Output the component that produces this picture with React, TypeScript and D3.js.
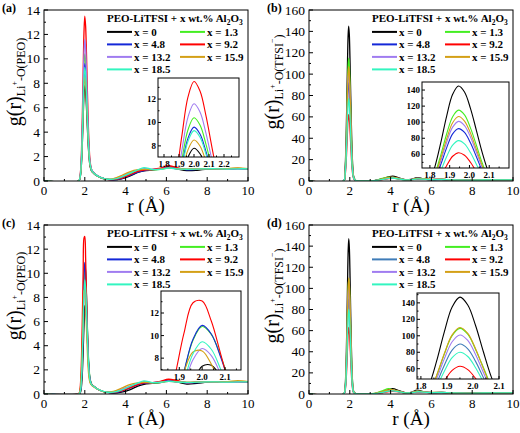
import React from 'react';
import * as d3 from 'd3';

// ---------- data ----------
const SERIES_LABELS = ['x = 0', 'x = 1.3', 'x = 4.8', 'x = 9.2', 'x = 13.2', 'x = 15.9', 'x = 18.5'];
const COLORS = ['#000000', '#44ee22', '#1428d8', '#ff0000', '#a07cf0', '#d4a017', '#33f5c0'];
const COLORS_D = ['#000000', '#44ee22', '#3f7cb8', '#ff0000', '#a07cf0', '#d4a017', '#33f5c0'];

const X_TICKS = [0, 2, 4, 6, 8, 10];
const Y_TICKS_PEO = [0, 2, 4, 6, 8, 10, 12, 14];
const Y_TICKS_TFSI = [0, 20, 40, 60, 80, 100, 120, 140, 160];

// r grid for Li-O(PEO) panels (a, c)
const R_PEO = [0, 1.7, 1.76, 1.8, 1.84, 1.88, 1.92, 1.96, 2.0, 2.04, 2.08, 2.12, 2.16, 2.2, 2.26, 2.34, 2.45, 2.6, 2.8, 3.0,
  3.4, 3.8, 4.2, 4.6, 4.9, 5.3, 5.7, 6.1, 6.5, 7.0, 7.5, 8.0, 8.5, 9.0, 9.5, 10.0];

const A_X0 = [0, 0, 0.19, 0.59, 1.49, 3.08, 5.16, 7.04, 7.8, 7.33, 6.10, 4.59, 3.16, 2.13, 1.18, 0.79, 0.6, 0.42, 0.26, 0.17,
  0.10, 0.18, 0.40, 0.70, 0.82, 0.90, 0.98, 1.10, 1.0, 0.85, 0.88, 0.98, 1.0, 0.98, 1.02, 1.0];
const A_X13 = [0, 0, 0.25, 0.79, 1.99, 4.11, 6.88, 9.38, 10.4, 9.78, 8.13, 6.08, 4.13, 2.69, 1.42, 0.87, 0.65, 0.45, 0.28, 0.18,
  0.14, 0.30, 0.60, 0.85, 0.98, 0.92, 0.95, 1.08, 1.02, 0.95, 0.98, 1.02, 0.98, 1.0, 1.03, 1.0];
const A_X48 = [0, 0, 0.23, 0.73, 1.83, 3.79, 6.36, 8.66, 9.6, 9.02, 7.51, 5.62, 3.83, 2.51, 1.36, 0.87, 0.65, 0.45, 0.28, 0.17,
  0.10, 0.20, 0.45, 0.72, 0.85, 0.92, 1.02, 1.18, 1.05, 0.92, 0.95, 1.0, 0.98, 1.0, 1.02, 1.0];
const A_X92 = [0, 0, 0.33, 1.02, 2.58, 5.33, 8.94, 12.18, 13.5, 12.69, 10.56, 7.86, 5.29, 3.35, 1.65, 0.91, 0.66, 0.45, 0.27, 0.16,
  0.12, 0.24, 0.50, 0.78, 0.90, 0.95, 1.05, 1.25, 1.10, 0.95, 0.98, 1.02, 0.98, 1.0, 1.03, 1.0];
const A_X132 = [0, 0, 0.28, 0.88, 2.22, 4.58, 7.68, 10.46, 11.6, 10.90, 9.07, 6.77, 4.58, 2.94, 1.51, 0.89, 0.66, 0.46, 0.29, 0.18,
  0.18, 0.38, 0.68, 0.90, 1.0, 0.95, 0.98, 1.08, 1.0, 0.95, 0.98, 1.02, 1.0, 0.98, 1.0, 1.0];
const A_X159 = [0, 0, 0.21, 0.64, 1.62, 3.36, 5.63, 7.67, 8.5, 7.99, 6.65, 4.99, 3.42, 2.28, 1.25, 0.82, 0.62, 0.43, 0.27, 0.17,
  0.20, 0.45, 0.75, 0.92, 0.95, 0.92, 0.98, 1.05, 1.02, 0.98, 1.0, 1.0, 1.0, 1.02, 1.08, 1.02];
const A_X185 = [0, 0, 0.23, 0.70, 1.78, 3.67, 6.16, 8.39, 9.3, 8.74, 7.27, 5.45, 3.72, 2.45, 1.34, 0.85, 0.64, 0.44, 0.28, 0.18,
  0.15, 0.32, 0.62, 0.92, 1.10, 0.95, 0.95, 1.05, 1.0, 0.96, 0.98, 1.0, 1.0, 0.98, 1.0, 1.0];

const C_X0 = [0, 0, 0.05, 0.20, 0.68, 1.75, 3.56, 5.74, 7.28, 7.37, 6.37, 4.86, 3.33, 2.18, 1.20, 0.80, 0.62, 0.44, 0.27, 0.17,
  0.08, 0.15, 0.35, 0.65, 0.80, 0.88, 0.95, 1.08, 1.0, 0.82, 0.88, 0.98, 1.0, 0.98, 1.02, 1.0];
const C_X13 = [0, 0, 0.15, 0.55, 1.61, 3.70, 6.71, 9.59, 10.8, 10.1, 8.25, 5.95, 3.9, 2.4, 1.25, 0.78, 0.62, 0.44, 0.28, 0.17,
  0.14, 0.30, 0.58, 0.85, 1.0, 0.92, 0.96, 1.08, 1.02, 0.95, 0.98, 1.02, 0.98, 1.0, 1.05, 1.0];
const C_X48 = [0, 0, 0.15, 0.56, 1.62, 3.74, 6.77, 9.68, 10.9, 10.14, 8.15, 5.77, 3.66, 2.23, 1.16, 0.75, 0.62, 0.44, 0.27, 0.17,
  0.10, 0.22, 0.48, 0.75, 0.88, 0.92, 1.02, 1.15, 1.05, 0.92, 0.95, 1.0, 0.98, 1.0, 1.02, 1.0];
const C_X92 = [0, 0.04, 0.36, 1.20, 3.10, 6.32, 10.17, 12.91, 13.06, 11.29, 8.45, 5.57, 3.31, 1.93, 1.04, 0.76, 0.62, 0.44, 0.27, 0.17,
  0.12, 0.25, 0.50, 0.78, 0.92, 0.95, 1.05, 1.22, 1.12, 0.95, 0.98, 1.02, 0.98, 1.0, 1.03, 1.0];
const C_X132 = [0, 0, 0.12, 0.45, 1.32, 3.04, 5.50, 7.86, 8.85, 8.23, 6.62, 4.70, 3.02, 1.89, 1.07, 0.74, 0.60, 0.43, 0.28, 0.18,
  0.18, 0.38, 0.66, 0.88, 0.98, 0.95, 0.98, 1.06, 1.0, 0.95, 0.98, 1.02, 1.0, 0.98, 1.0, 1.0];
const C_X159 = [0, 0, 0.24, 0.79, 2.05, 4.18, 6.73, 8.54, 8.64, 7.47, 5.59, 3.72, 2.27, 1.43, 0.91, 0.72, 0.58, 0.42, 0.27, 0.17,
  0.22, 0.48, 0.78, 0.92, 0.96, 0.92, 0.98, 1.05, 1.02, 0.98, 1.0, 1.0, 1.0, 1.02, 1.1, 1.02];
const C_X185 = [0, 0, 0.13, 0.48, 1.41, 3.24, 5.87, 8.39, 9.45, 8.79, 7.07, 5.01, 3.21, 1.99, 1.09, 0.75, 0.62, 0.44, 0.28, 0.18,
  0.15, 0.32, 0.62, 0.92, 1.08, 0.95, 0.96, 1.05, 1.0, 0.96, 0.98, 1.0, 1.0, 0.98, 1.0, 1.0];

// r grids for Li-O(TFSI) panels (b, d)
const R_B = [0, 1.7, 1.765, 1.795, 1.825, 1.855, 1.885, 1.915, 1.945, 1.975, 2.005, 2.035, 2.065, 2.095, 2.125, 2.155, 2.2, 2.3,
  2.5, 2.8, 3.2, 3.6, 3.9, 4.1, 4.4, 4.7, 5.0, 5.3, 5.6, 6.0, 6.5, 7.0, 8.0, 9.0, 10.0];
const R_D = [0, 1.7, 1.77, 1.8, 1.83, 1.86, 1.89, 1.92, 1.95, 1.98, 2.01, 2.04, 2.07, 2.1, 2.13, 2.16, 2.2, 2.3,
  2.5, 2.8, 3.2, 3.6, 3.9, 4.1, 4.4, 4.7, 5.0, 5.3, 5.6, 6.0, 6.5, 7.0, 8.0, 9.0, 10.0];

const B_X0 = [0, 0, 10.2, 22.8, 44.4, 74.5, 107.9, 134.7, 145, 137.5, 117.2, 89.9, 61.9, 38.4, 21.3, 10.7, 3.6, 0.4,
  0.1, 0.05, 0.3, 2.0, 3.8, 4.6, 3.0, 1.2, 1.5, 3.2, 2.0, 1.2, 1.4, 0.9, 0.9, 1.0, 1.0];
const B_X13 = [0, 0, 8.1, 18.1, 35.2, 59.1, 85.6, 106.8, 115, 109.0, 92.9, 71.3, 49.1, 30.5, 16.9, 8.5, 3.0, 0.4,
  0.1, 0.05, 0.4, 2.4, 3.6, 3.0, 1.8, 1.0, 1.3, 2.2, 1.8, 1.3, 1.6, 1.0, 0.9, 1.0, 1.0];
const B_X48 = [0, 0, 6.4, 14.4, 28.2, 47.3, 68.4, 85.5, 92, 87.2, 74.3, 57.0, 39.3, 24.4, 13.5, 6.8, 2.5, 0.35,
  0.1, 0.05, 0.3, 1.8, 3.0, 3.4, 2.4, 1.2, 1.2, 2.6, 1.9, 1.3, 1.5, 1.0, 0.9, 1.0, 1.0];
const B_X92 = [0, 0, 4.3, 9.7, 19.0, 31.9, 46.1, 57.6, 62, 58.8, 50.1, 38.4, 26.5, 16.4, 9.1, 4.6, 1.8, 0.3,
  0.1, 0.05, 0.2, 1.2, 2.2, 2.6, 2.0, 1.2, 1.1, 1.8, 1.6, 1.3, 1.6, 1.1, 1.0, 1.0, 1.0];
const B_X132 = [0, 0, 7.1, 15.9, 30.9, 51.9, 75.1, 93.8, 101, 95.7, 81.6, 62.6, 43.1, 26.8, 14.8, 7.5, 2.7, 0.35,
  0.1, 0.05, 0.3, 1.6, 2.8, 3.0, 2.2, 1.2, 1.2, 2.2, 1.8, 1.4, 1.5, 1.0, 0.9, 1.0, 1.0];
const B_X159 = [0, 0, 7.5, 16.8, 32.7, 55.0, 79.6, 99.4, 107, 101.4, 86.5, 66.3, 45.7, 28.4, 15.7, 7.9, 2.8, 0.4,
  0.1, 0.05, 0.3, 2.0, 3.2, 3.6, 2.5, 1.2, 1.3, 2.6, 2.0, 1.5, 1.7, 1.0, 0.9, 1.0, 1.0];
const B_X185 = [0, 0, 5.4, 12.1, 23.6, 39.6, 57.3, 71.5, 77, 73.0, 62.2, 47.7, 32.9, 20.4, 11.3, 5.7, 2.2, 0.3,
  0.1, 0.05, 0.3, 1.5, 2.4, 2.8, 2.0, 1.1, 1.1, 2.0, 1.7, 1.2, 1.4, 1.0, 0.9, 1.0, 1.0];

const D_X0 = [0, 0, 7.1, 17.8, 38.1, 68.8, 104.8, 135.1, 147, 137.4, 112.5, 80.6, 50.4, 27.6, 13.2, 5.6, 1.9, 0.4,
  0.1, 0.05, 0.3, 2.2, 4.2, 5.0, 3.2, 1.2, 1.6, 3.6, 2.2, 1.2, 1.3, 0.9, 0.9, 1.0, 1.0];
const D_X13 = [0, 0, 5.2, 13.2, 28.2, 51.0, 77.7, 100.2, 109, 102.0, 83.4, 61.5, 39.0, 22.0, 11.0, 5.0, 1.8, 0.4,
  0.1, 0.05, 0.5, 3.0, 5.0, 4.0, 2.2, 1.0, 1.3, 2.4, 1.9, 1.4, 1.5, 1.0, 0.9, 1.0, 1.0];
const D_X48 = [0, 0, 4.3, 10.9, 23.3, 42.1, 64.2, 82.7, 90, 84.2, 68.9, 49.3, 30.9, 16.9, 8.1, 3.4, 1.4, 0.4,
  0.1, 0.05, 0.3, 1.8, 3.2, 3.6, 2.5, 1.2, 1.3, 2.6, 2.0, 1.3, 1.4, 1.0, 0.9, 1.0, 1.0];
const D_X92 = [0, 0, 3.0, 7.6, 16.3, 29.5, 44.9, 57.9, 63, 58.9, 48.2, 34.5, 21.6, 11.8, 5.7, 2.4, 1.1, 0.3,
  0.1, 0.05, 0.2, 1.2, 2.2, 2.6, 2.0, 1.2, 1.1, 1.8, 1.7, 1.3, 1.5, 1.1, 1.0, 1.0, 1.0];
const D_X132 = [0, 0, 4.8, 12.2, 26.2, 47.3, 72.0, 92.8, 101, 94.4, 77.3, 55.3, 34.6, 19.0, 9.1, 3.8, 1.5, 0.4,
  0.1, 0.05, 0.3, 1.7, 3.0, 3.2, 2.3, 1.2, 1.2, 2.3, 1.8, 1.4, 1.5, 1.0, 0.9, 1.0, 1.0];
const D_X159 = [0, 0, 5.3, 13.3, 28.5, 51.5, 78.4, 101.1, 110, 102.9, 84.2, 60.3, 37.7, 20.7, 9.9, 4.2, 1.6, 0.4,
  0.1, 0.05, 0.4, 2.3, 3.8, 4.0, 2.7, 1.2, 1.3, 2.8, 2.1, 1.5, 1.6, 1.0, 0.9, 1.0, 1.0];
const D_X185 = [0, 0, 3.8, 9.7, 20.7, 37.4, 57.0, 73.5, 80, 74.8, 61.2, 43.8, 27.4, 15.0, 7.2, 3.0, 1.3, 0.4,
  0.1, 0.05, 0.3, 1.6, 2.7, 3.0, 2.2, 1.1, 1.1, 2.1, 1.8, 1.2, 1.4, 1.0, 0.9, 1.0, 1.0];

// ---------- layout ----------
type Inset = {
  x0: number; x1: number; y0: number; y1: number;
  xDom: [number, number]; yDom: [number, number];
  xTicks: number[]; yTicks: number[]; xMinor: number[]; yMinor: number[];
};
type PanelCfg = {
  id: string; tag: string; left: number; right: number; top: number; bottom: number;
  yMax: number; yTicks: number[]; yMinorStep: number; r: number[]; series: number[][];
  colors: string[]; ylab: 'PEO' | 'TFSI'; ylabX: number; ylabY: number; inset: Inset;
};

const FONT = "'Liberation Serif', 'DejaVu Serif', serif";
const SERIF = { fontFamily: FONT };

const PANELS: PanelCfg[] = [
  {
    id: 'a', tag: '(a)', left: 44, right: 248, top: 10, bottom: 181, yMax: 14, yTicks: Y_TICKS_PEO, yMinorStep: 1,
    r: R_PEO, series: [A_X0, A_X13, A_X48, A_X92, A_X132, A_X159, A_X185], colors: COLORS, ylab: 'PEO', ylabX: 21, ylabY: 82,
    inset: { x0: 158, x1: 239, y0: 78, y1: 157, xDom: [1.76, 2.3], yDom: [7.05, 13.8], xTicks: [1.8, 1.9, 2.0, 2.1, 2.2],
      yTicks: [8, 10, 12], xMinor: [1.85, 1.95, 2.05, 2.15, 2.25], yMinor: [9, 11, 13] },
  },
  {
    id: 'b', tag: '(b)', left: 309, right: 513, top: 10, bottom: 181, yMax: 160, yTicks: Y_TICKS_TFSI, yMinorStep: 10,
    r: R_B, series: [B_X0, B_X13, B_X48, B_X92, B_X132, B_X159, B_X185], colors: COLORS, ylab: 'TFSI', ylabX: 279, ylabY: 82,
    inset: { x0: 422, x1: 509, y0: 82, y1: 168, xDom: [1.76, 2.2], yDom: [43, 150], xTicks: [1.8, 1.9, 2.0, 2.1],
      yTicks: [60, 80, 100, 120, 140], xMinor: [1.85, 1.95, 2.05, 2.15], yMinor: [50, 70, 90, 110, 130, 150] },
  },
  {
    id: 'c', tag: '(c)', left: 44, right: 248, top: 225, bottom: 394, yMax: 14, yTicks: Y_TICKS_PEO, yMinorStep: 1,
    r: R_PEO, series: [C_X0, C_X13, C_X48, C_X92, C_X132, C_X159, C_X185], colors: COLORS, ylab: 'PEO', ylabX: 21, ylabY: 296,
    inset: { x0: 161, x1: 241, y0: 291, y1: 370, xDom: [1.82, 2.17], yDom: [6.95, 13.95], xTicks: [1.9, 2.0, 2.1],
      yTicks: [8, 10, 12], xMinor: [1.85, 1.95, 2.05, 2.15], yMinor: [7, 9, 11, 13] },
  },
  {
    id: 'd', tag: '(d)', left: 309, right: 513, top: 225, bottom: 394, yMax: 160, yTicks: Y_TICKS_TFSI, yMinorStep: 10,
    r: R_D, series: [D_X0, D_X13, D_X48, D_X92, D_X132, D_X159, D_X185], colors: COLORS_D, ylab: 'TFSI', ylabX: 279, ylabY: 296,
    inset: { x0: 417, x1: 499, y0: 293, y1: 379, xDom: [1.785, 2.1], yDom: [47.5, 152], xTicks: [1.8, 1.9, 2.0, 2.1],
      yTicks: [60, 80, 100, 120, 140], xMinor: [1.85, 1.95, 2.05], yMinor: [50, 70, 90, 110, 130, 150] },
  },
];

const curve = d3.curveCatmullRom.alpha(0.5);

function Panel({ p }: { p: PanelCfg }) {
  const x = d3.scaleLinear().domain([0, 10]).range([p.left, p.right]);
  const y = d3.scaleLinear().domain([0, p.yMax]).range([p.bottom, p.top]);
  const ins = p.inset;
  const xi = d3.scaleLinear().domain(ins.xDom).range([ins.x0, ins.x1]);
  const yi = d3.scaleLinear().domain(ins.yDom).range([ins.y1, ins.y0]);

  const mkLine = (sx: any, sy: any) =>
    d3.line<[number, number]>().x((d) => sx(d[0])).y((d) => sy(d[1])).curve(curve);
  const mainLine = mkLine(x, y);
  const insetLine = mkLine(xi, yi);
  const pts = p.series.map((s) => s.map((v, i) => [p.r[i], v] as [number, number]));

  const xMinor = d3.range(1, 10, 2);
  const yMinor = d3.range(p.yMinorStep, p.yMax, p.yMinorStep * 2);
  const fmt = d3.format('.1f');

  const lx = p.right - 141;
  const ly = p.top;
  const lw = 25;

  const sub = p.ylab === 'PEO';

  return (
    <g style={SERIF}>
      <defs>
        <clipPath id={`clip-${p.id}`}>
          <rect x={p.left} y={p.top} width={p.right - p.left} height={p.bottom - p.top} />
        </clipPath>
        <clipPath id={`clipi-${p.id}`}>
          <rect x={ins.x0} y={ins.y0} width={ins.x1 - ins.x0} height={ins.y1 - ins.y0} />
        </clipPath>
      </defs>
      <text x={p.left - 42} y={p.top + 2} fontWeight="bold" fontSize={12}>{p.tag}</text>

      {/* main curves */}
      <g clipPath={`url(#clip-${p.id})`}>
        {pts.map((d, i) => (
          <path key={i} d={mainLine(d) || ''} fill="none" stroke={p.colors[i]} strokeWidth={1.3} />
        ))}
      </g>

      {/* frame */}
      <rect x={p.left} y={p.top} width={p.right - p.left} height={p.bottom - p.top} fill="none" stroke="#000" strokeWidth={1} />

      {/* x ticks */}
      {X_TICKS.map((t) => (
        <g key={`xt${t}`}>
          <line x1={x(t)} x2={x(t)} y1={p.bottom} y2={p.bottom - 4} stroke="#000" />
          <text x={x(t)} y={p.bottom + 14} textAnchor="middle" fontSize={13}>{t}</text>
        </g>
      ))}
      {xMinor.map((t) => (
        <line key={`xm${t}`} x1={x(t)} x2={x(t)} y1={p.bottom} y2={p.bottom - 2} stroke="#000" />
      ))}
      {/* y ticks */}
      {p.yTicks.map((t) => (
        <g key={`yt${t}`}>
          <line x1={p.left} x2={p.left + 4} y1={y(t)} y2={y(t)} stroke="#000" />
          <text x={p.left - 4} y={y(t) + 4.5} textAnchor="end" fontSize={13.5}>{t}</text>
        </g>
      ))}
      {yMinor.map((t) => (
        <line key={`ym${t}`} x1={p.left} x2={p.left + 2} y1={y(t)} y2={y(t)} stroke="#000" />
      ))}

      {/* axis titles */}
      <text x={(p.left + p.right) / 2} y={p.bottom + 31} textAnchor="middle" fontSize={19}>r (Å)</text>
      <text transform={`translate(${p.ylabX},${p.ylabY}) rotate(-90)`} textAnchor="middle" fontSize={20}>
        g(r)
        <tspan fontSize={12} dy={4}>Li</tspan>
        <tspan fontSize={8} dy={-8}>+</tspan>
        <tspan fontSize={12} dy={8}>{sub ? '-O(PEO)' : '-O(TFSI'}</tspan>
        {sub ? null : <tspan fontSize={8} dy={-8}>−</tspan>}
        {sub ? null : <tspan fontSize={12} dy={8}>)</tspan>}
      </text>

      {/* legend */}
      <text x={lx} y={ly + 12} fontWeight="bold" fontSize={11}>
        PEO-LiTFSI + x wt.% Al<tspan fontSize={7.5} dy={2.5}>2</tspan><tspan dy={-2.5}>O</tspan><tspan fontSize={7.5} dy={2.5}>3</tspan>
      </text>
      {SERIES_LABELS.map((lab, i) => {
        const col = i % 2;
        const row = Math.floor(i / 2);
        const cx = lx + col * 73;
        const cy = ly + 21.9 + row * 12.5;
        return (
          <g key={lab}>
            <line x1={cx} x2={cx + lw} y1={cy} y2={cy} stroke={p.colors[i]} strokeWidth={2} />
            <text x={cx + lw + 2} y={cy + 4} fontWeight="bold" fontSize={11}>{lab}</text>
          </g>
        );
      })}

      {/* inset */}
      <rect x={ins.x0} y={ins.y0} width={ins.x1 - ins.x0} height={ins.y1 - ins.y0} fill="#fff" stroke="none" />
      <g clipPath={`url(#clipi-${p.id})`}>
        {pts.map((d, i) => (
          <path key={i} d={insetLine(d) || ''} fill="none" stroke={p.colors[i]} strokeWidth={1.1} />
        ))}
      </g>
      <rect x={ins.x0} y={ins.y0} width={ins.x1 - ins.x0} height={ins.y1 - ins.y0} fill="none" stroke="#000" strokeWidth={1} />
      {ins.xTicks.map((t) => (
        <g key={`ixt${t}`}>
          <line x1={xi(t)} x2={xi(t)} y1={ins.y1} y2={ins.y1 - 3} stroke="#000" />
          <text x={xi(t)} y={ins.y1 + 10} textAnchor="middle" fontWeight="bold" fontSize={9}>{fmt(t)}</text>
        </g>
      ))}
      {ins.xMinor.map((t) => (
        <line key={`ixm${t}`} x1={xi(t)} x2={xi(t)} y1={ins.y1} y2={ins.y1 - 1.5} stroke="#000" />
      ))}
      {ins.yTicks.map((t) => (
        <g key={`iyt${t}`}>
          <line x1={ins.x0} x2={ins.x0 + 3} y1={yi(t)} y2={yi(t)} stroke="#000" />
          <text x={ins.x0 - 2} y={yi(t) + 3} textAnchor="end" fontWeight="bold" fontSize={9}>{t}</text>
        </g>
      ))}
      {ins.yMinor.filter((t) => t > ins.yDom[0] && t < ins.yDom[1]).map((t) => (
        <line key={`iym${t}`} x1={ins.x0} x2={ins.x0 + 1.5} y1={yi(t)} y2={yi(t)} stroke="#000" />
      ))}
    </g>
  );
}

export default function App() {
  return (
    <svg width={520} height={433} style={{ display: 'block', position: 'absolute', left: 0, top: 0, background: '#fff' }}>
      <rect x={0} y={0} width={520} height={433} fill="#fff" />
      {PANELS.map((p) => <Panel key={p.id} p={p} />)}
    </svg>
  );
}
